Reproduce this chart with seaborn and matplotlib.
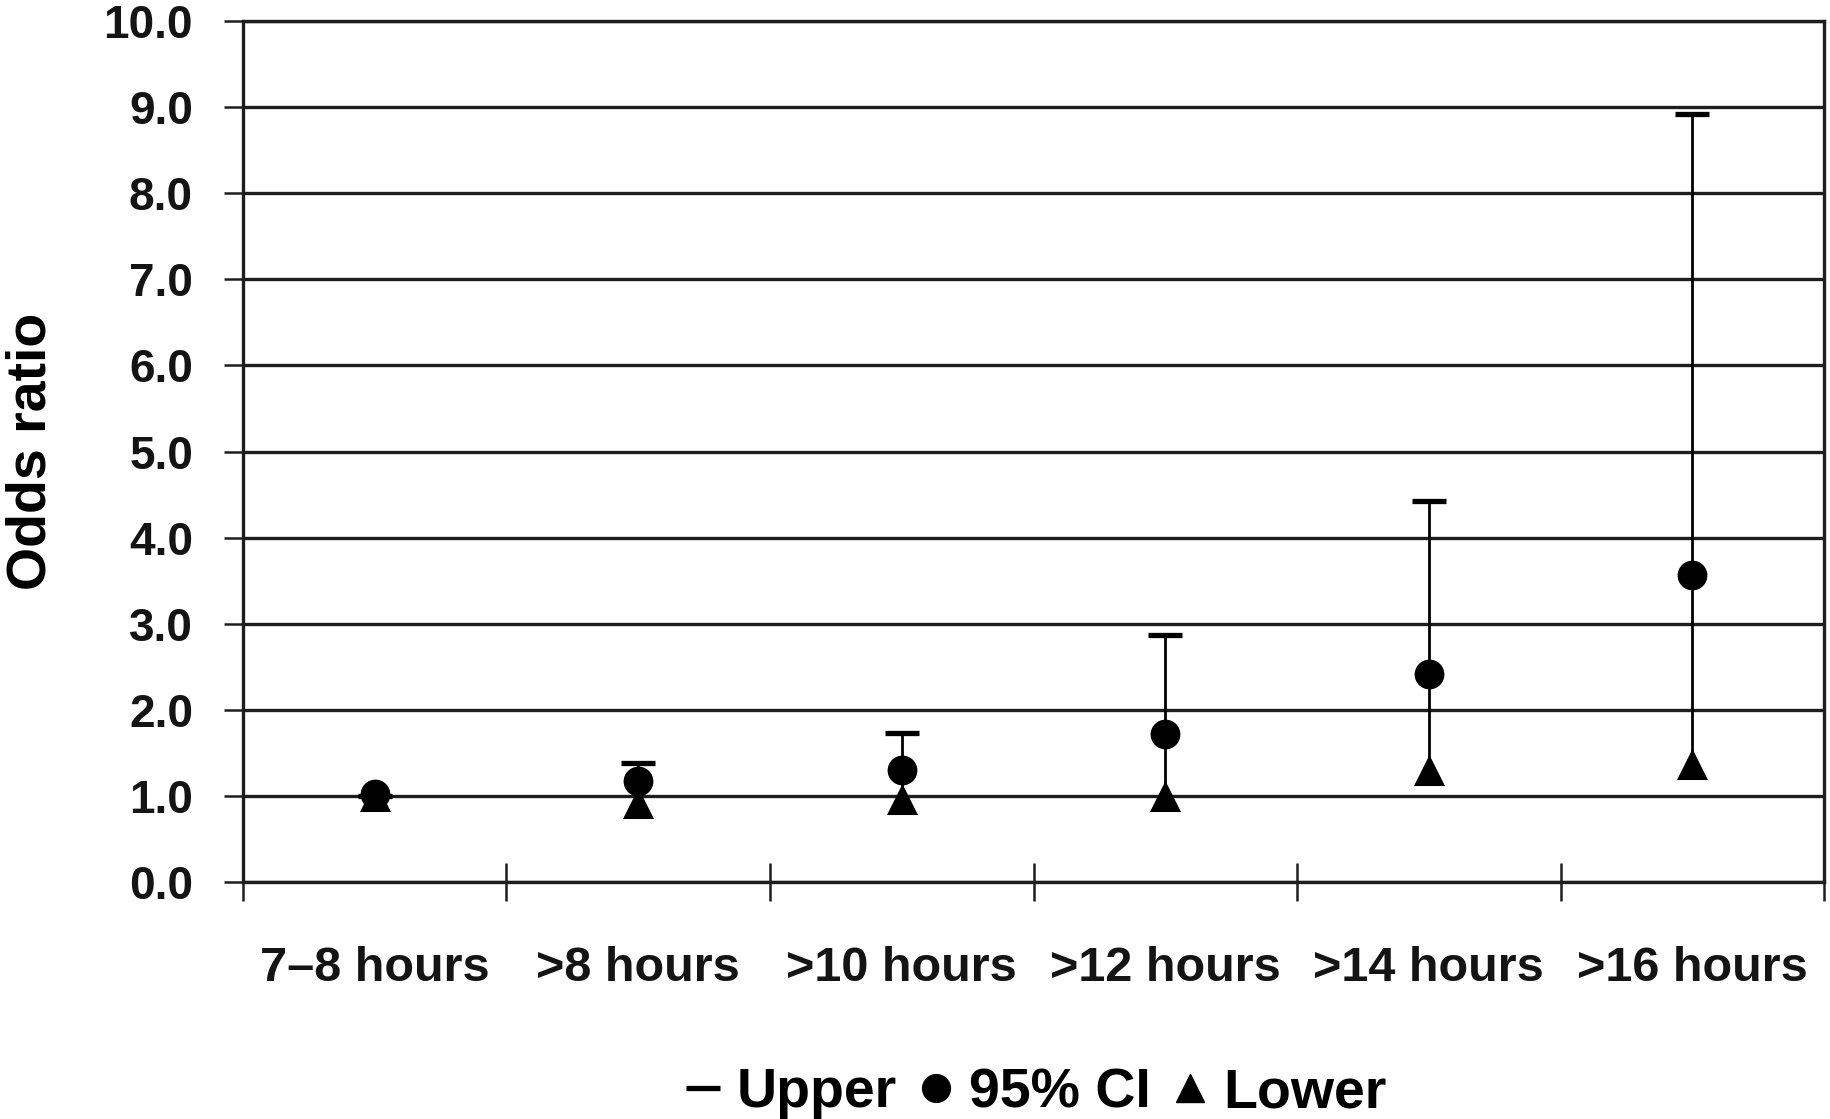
import numpy as np
import pandas as pd
import matplotlib
matplotlib.use('Agg')
import matplotlib.pyplot as plt
from matplotlib.lines import Line2D
import seaborn as sns

# values
categories = ['7–8 hours', '>8 hours', '>10 hours', '>12 hours', '>14 hours', '>16 hours']
odds_ratio = [1.02, 1.17, 1.30, 1.72, 2.42, 3.56]
upper = [1.00, 1.38, 1.73, 2.87, 4.42, 8.92]
lower = [1.00, 0.92, 0.96, 1.00, 1.30, 1.37]
y_ticks = np.arange(0, 10.5, 1.0)

df = pd.DataFrame({
    'pos': np.arange(len(categories)),
    'odds_ratio': odds_ratio,
    'upper': upper,
    'lower': lower,
})

sns.set_theme(style='white')
plt.rcParams['font.family'] = ['Liberation Sans', 'DejaVu Sans']
plt.rcParams['font.weight'] = 'bold'
plt.rcParams['axes.labelweight'] = 'bold'

ink = '#141414'

fig = plt.figure(figsize=(18.31, 11.19), dpi=100)
ax = fig.add_axes([0.1327, 0.2118, 0.8635, 0.7694])

# high-low line from lower to upper
ax.vlines(df['pos'], df['lower'], df['upper'], color='black', lw=2.0, zorder=2)

sns.scatterplot(data=df, x='pos', y='upper', marker='_', s=600, color='black',
                linewidth=3.8, ax=ax, zorder=3)
sns.scatterplot(data=df, x='pos', y='odds_ratio', marker='o', s=460, color='black',
                linewidth=0, ax=ax, zorder=4)
sns.scatterplot(data=df, x='pos', y='lower', marker='^', s=500, color='black',
                linewidth=0, ax=ax, zorder=3)

ax.set_xlim(-0.5, len(categories) - 0.5)
ax.set_ylim(0, 10)
ax.set_yticks(y_ticks)
ax.set_yticklabels([f'{v:.1f}' for v in y_ticks], fontsize=33, color=ink)
ax.set_xticks(df['pos'])
ax.set_xticklabels(categories, fontsize=35, color=ink)
ax.set_xticks(np.arange(-0.5, len(categories), 1.0), minor=True)

ax.tick_params(axis='x', which='major', bottom=True, length=0, pad=46)
ax.tick_params(axis='x', which='minor', bottom=True, direction='inout', length=27,
               width=1.8, color='#1e1e1e')
ax.tick_params(axis='y', which='major', left=True, direction='out', length=14,
               width=1.8, color='#1e1e1e', pad=22)

ax.yaxis.grid(True, color='#1e1e1e', lw=2.4)
ax.xaxis.grid(False)
for sp in ax.spines.values():
    sp.set_color('#1e1e1e')
    sp.set_linewidth(2.4)

ax.set_xlabel('')
ax.set_ylabel('Odds ratio', fontsize=40, fontweight='bold', color='black')
ax.yaxis.set_label_coords(-0.117, 0.5)

handles = [
    Line2D([], [], color='black', marker='_', linestyle='none', markersize=24,
           markeredgewidth=3.8),
    Line2D([], [], color='black', marker='o', linestyle='none', markersize=20),
    Line2D([], [], color='black', marker='^', linestyle='none', markersize=20),
]
fig.legend(handles, ['Upper', '95% CI', 'Lower'], loc='center',
           bbox_to_anchor=(0.566, 0.023), ncol=3, frameon=False,
           prop={'size': 40, 'weight': 'bold'}, handlelength=0.6,
           handletextpad=0.3, columnspacing=0.4, labelcolor='black')

fig.savefig('out.png', dpi=100)
